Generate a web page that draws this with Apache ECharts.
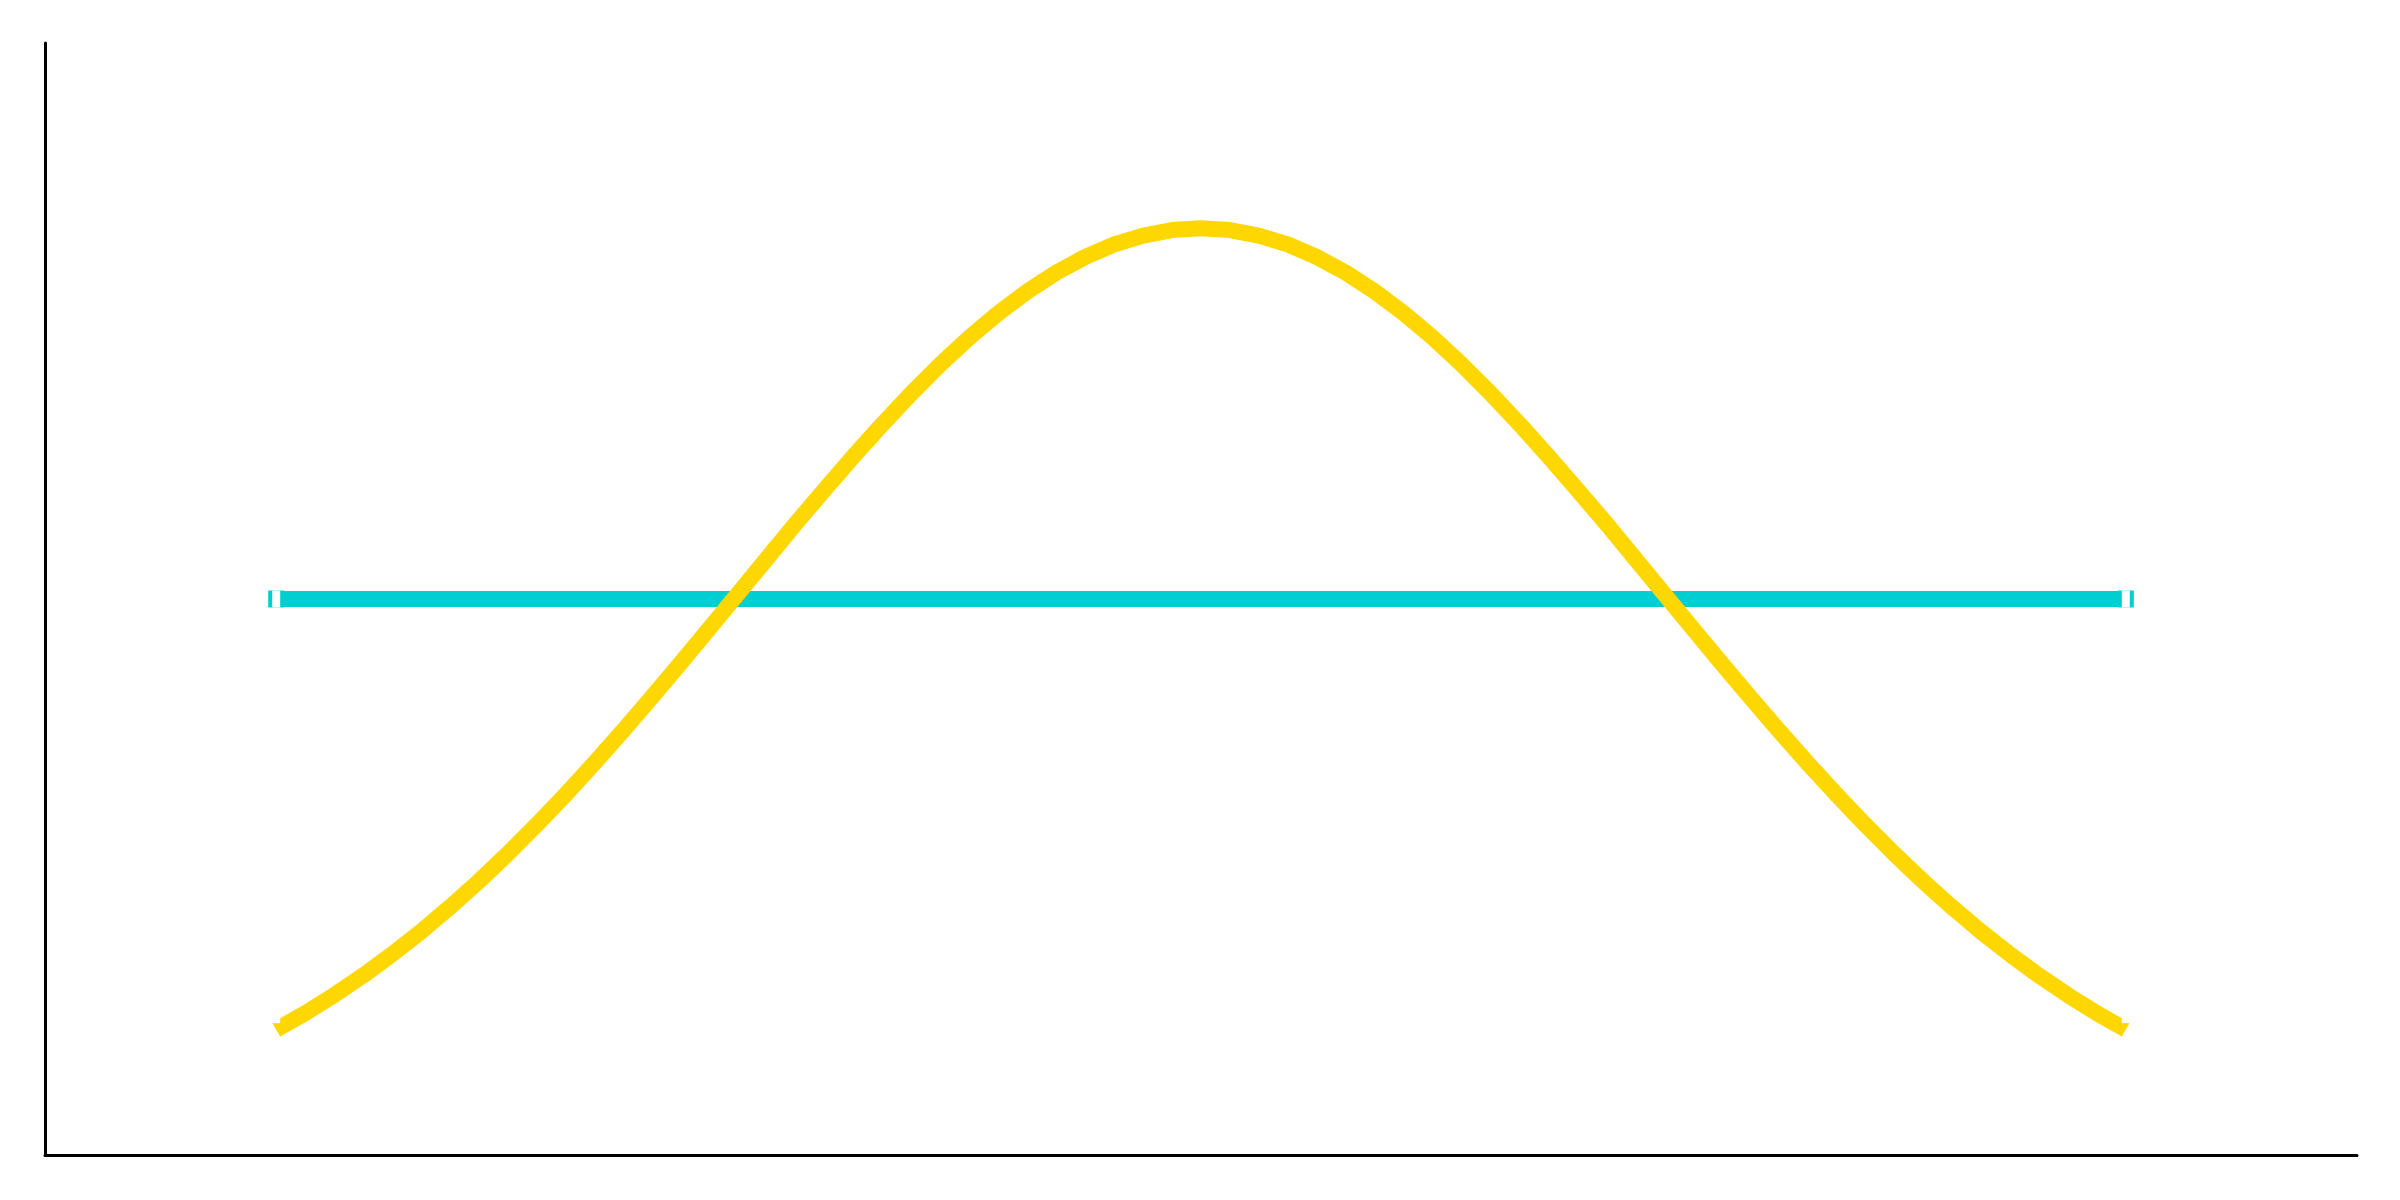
<!DOCTYPE html>
<html><head><meta charset="utf-8">
<script src="https://cdn.jsdelivr.net/npm/echarts@6/dist/echarts.min.js"></script>
<style>html,body{margin:0;padding:0;background:#fff}#c{width:2400px;height:1200px}</style>
</head><body><div id="c"></div>
<script>
// x positions (axis runs 0..10)
const xValues = [1, 1.125, 1.25, 1.375, 1.5, 1.625, 1.75, 1.875, 2, 2.125, 2.25, 2.375, 2.5, 2.625, 2.75, 2.875,
                 3, 3.125, 3.25, 3.375, 3.5, 3.625, 3.75, 3.875, 4, 4.125, 4.25, 4.375, 4.5, 4.625, 4.75, 4.875, 5,
                 5.125, 5.25, 5.375, 5.5, 5.625, 5.75, 5.875, 6, 6.125, 6.25, 6.375, 6.5, 6.625, 6.75, 6.875,
                 7, 7.125, 7.25, 7.375, 7.5, 7.625, 7.75, 7.875, 8, 8.125, 8.25, 8.375, 8.5, 8.625, 8.75, 8.875, 9];
// yellow bell curve
const curveValues = [0.1353, 0.1530, 0.1724, 0.1935, 0.2163, 0.2408, 0.2671, 0.2950, 0.3247, 0.3559, 0.3886, 0.4226, 0.4578, 0.4941, 0.5310, 0.5687,
                     0.6065, 0.6444, 0.6823, 0.7188, 0.7548, 0.7895, 0.8226, 0.8537, 0.8825, 0.9087, 0.9321, 0.9524, 0.9692, 0.9826, 0.9922, 0.9981, 1.0000,
                     0.9981, 0.9922, 0.9826, 0.9692, 0.9524, 0.9321, 0.9087, 0.8825, 0.8537, 0.8226, 0.7895, 0.7548, 0.7188, 0.6823, 0.6444,
                     0.6065, 0.5687, 0.5310, 0.4941, 0.4578, 0.4226, 0.3886, 0.3559, 0.3247, 0.2950, 0.2671, 0.2408, 0.2163, 0.1935, 0.1724, 0.1530, 0.1353];
// cyan flat line
const flatX = [1, 9];
const flatValues = [0.6, 0.6];

const curveData = xValues.map((x, i) => [x, curveValues[i]]);
const flatData = flatX.map((x, i) => [x, flatValues[i]]);
const ends = d => [d[0], d[d.length - 1]];

const chart = echarts.init(document.getElementById('c'), null, {renderer: 'canvas'});
const axisCommon = {
  axisLine: {show: true, lineStyle: {color: '#000', width: 3}},
  axisTick: {show: false}, axisLabel: {show: false}, splitLine: {show: false}
};
chart.setOption({
  animation: false,
  backgroundColor: '#fff',
  grid: {left: 45, right: 43, top: 43, bottom: 45, containLabel: false},
  xAxis: Object.assign({type: 'value', min: 0, max: 10}, axisCommon),
  yAxis: Object.assign({type: 'value', min: 0, max: 1.2}, axisCommon),
  series: [
    {type: 'scatter', z: 1, data: ends(flatData), symbol: 'rect', symbolSize: [16, 17],
     itemStyle: {color: '#00CED1', opacity: 1}, silent: true},
    {type: 'line', z: 2, data: flatData, symbol: 'none',
     lineStyle: {color: '#00CED1', width: 16, cap: 'butt'}},
    {type: 'line', z: 2, data: curveData, symbol: 'none', smooth: false,
     lineStyle: {color: '#FFD700', width: 16, cap: 'butt', join: 'round'}},
    {type: 'scatter', z: 3, data: ends(flatData), symbol: 'rect', symbolSize: [8, 17],
     itemStyle: {color: '#fff', opacity: 1}, silent: true},
    {type: 'scatter', z: 3, data: ends(curveData).map((p, i) => ({value: p, symbolOffset: [0, -15]})),
     symbol: 'rect', symbolSize: [8, 17],
     itemStyle: {color: '#fff', opacity: 1}, silent: true}
  ]
});
</script>
</body></html>
